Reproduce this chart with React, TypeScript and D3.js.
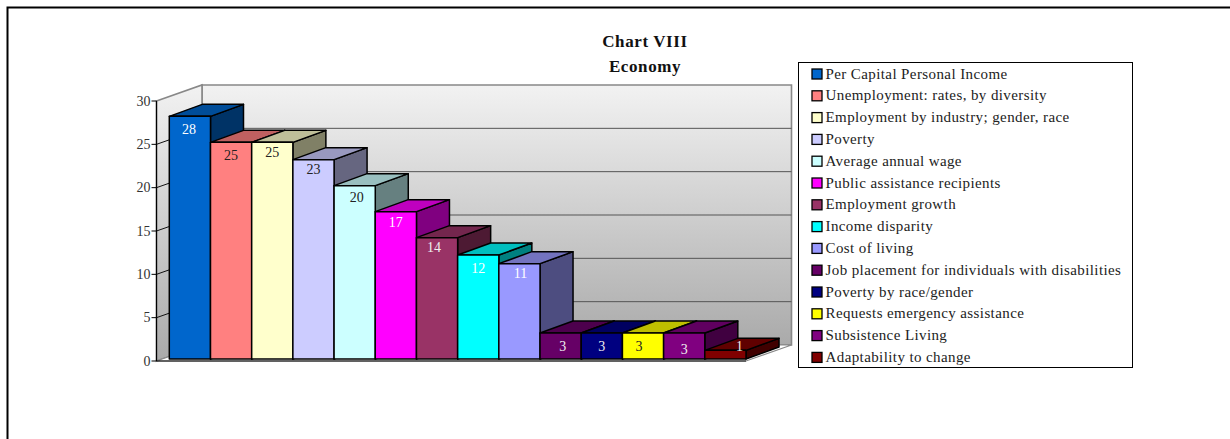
import React from "react";
import * as d3 from "d3";

const categories = [
  "Per Capital Personal Income",
  "Unemployment: rates, by diversity",
  "Employment by industry; gender, race",
  "Poverty",
  "Average annual wage",
  "Public assistance recipients",
  "Employment growth",
  "Income disparity",
  "Cost of living",
  "Job placement for individuals with disabilities",
  "Poverty by race/gender",
  "Requests emergency assistance",
  "Subsistence Living",
  "Adaptability to change",
];
const values = [28, 25, 25, 23, 20, 17, 14, 12, 11, 3, 3, 3, 3, 1];
const barColors = [
  "#0066cc", "#ff8080", "#ffffcc", "#ccccff", "#ccffff", "#ff00ff", "#993366",
  "#00ffff", "#9999ff", "#660066", "#000080", "#ffff00", "#800080", "#800000",
];
const labelColors = [
  "#fff", "#222", "#222", "#222", "#222", "#fff", "#eee",
  "#fff", "#fff", "#eee", "#eee", "#222", "#eee", "#eee",
];
const titleLines = ["Chart VIII", "Economy"];
const yTicks = [0, 5, 10, 15, 20, 25, 30];

// Hand-placed data labels: offset from the default spot near the bar's top centre.
const labelDx = [-1, 0, 0, 0, 2, 0, -3, 0, 1, 2, 0, -4, 0, 14];
const labelDy = [0, 0, -3, -3, -1, -2, -3, 0, -3, 0, 0, 0, 3, -17];

const FONT = "'Liberation Serif', 'Times New Roman', serif";
const DEPTH_X = 33;
const DEPTH_Y = 12;
const WALL_DX = 45.5;
const WALL_DY = 16;

const y = d3.scaleLinear().domain([0, 30]).range([359, 99]);
const axisY = d3.scaleLinear().domain([0, 30]).range([361, 101]);
const x = d3
  .scaleBand<number>()
  .domain(d3.range(values.length))
  .range([169.3, 746])
  .padding(0);

const poly = (pts: [number, number][]) => pts.map((p) => p.join(",")).join(" ");
const shade = (c: string, k: number) => {
  const { r, g, b } = d3.rgb(c);
  return d3.rgb(r * k, g * k, b * k).formatHex();
};

const AXIS_X = 156.5;
const FLOOR_RIGHT = 746;

export default function App() {
  const wallLeft = AXIS_X + WALL_DX;
  const wallRight = FLOOR_RIGHT + WALL_DX;
  const wallTop = axisY(30) - WALL_DY;
  const wallBottom = axisY(0) - WALL_DY;
  const bw = x.bandwidth();

  return (
    <svg
      width={1230}
      height={439}
      style={{ position: "absolute", left: 0, top: 0, background: "#fff" }}
      fontFamily={FONT}
    >
      <defs>
        <linearGradient id="wall" x1="0" y1="0" x2="0" y2="1">
          <stop offset="0" stopColor="#f2f2f2" />
          <stop offset="1" stopColor="#aaaaaa" />
        </linearGradient>
      </defs>

      {/* Outer frame */}
      <path d="M7.5,439V7.5H1230" fill="none" stroke="#000" strokeWidth={2} />

      {/* Title */}
      {titleLines.map((t, i) => (
        <text key={t} x={645} y={47 + i * 25} textAnchor="middle" fontWeight="bold" fontSize={17} letterSpacing={0.6} fill="#111">
          {t}
        </text>
      ))}

      {/* Walls of the 3D plot box */}
      <polygon
        points={poly([[wallLeft, wallTop], [wallRight, wallTop], [wallRight, wallBottom], [wallLeft, wallBottom]])}
        fill="url(#wall)"
        stroke="#888"
        strokeWidth={1.6}
      />
      <polygon
        points={poly([[AXIS_X, axisY(30)], [wallLeft, wallTop], [wallLeft, wallBottom], [AXIS_X, axisY(0)]])}
        fill="url(#wall)"
        stroke="#888"
        strokeWidth={1.6}
      />
      <polygon
        points={poly([[AXIS_X, axisY(0)], [wallLeft, wallBottom], [wallRight, wallBottom], [FLOOR_RIGHT, axisY(0)]])}
        fill="#fff"
        stroke="#888"
        strokeWidth={1.2}
      />

      {/* Gridlines on the back wall and side wall */}
      {yTicks.filter((t) => t > 0 && t < 30).map((t) => (
        <g key={t} stroke="#555" strokeWidth={1} fill="none">
          <line x1={wallLeft} x2={wallRight} y1={axisY(t) - WALL_DY} y2={axisY(t) - WALL_DY} />
          <line x1={AXIS_X} x2={wallLeft} y1={axisY(t)} y2={axisY(t) - WALL_DY} stroke="#111" />
        </g>
      ))}

      {/* Value axis */}
      <line x1={AXIS_X} x2={AXIS_X} y1={axisY(0)} y2={axisY(30)} stroke="#000" strokeWidth={1.2} />
      <line x1={AXIS_X} x2={FLOOR_RIGHT} y1={axisY(0)} y2={axisY(0)} stroke="#000" strokeWidth={1.2} />
      {yTicks.map((t) => (
        <g key={t}>
          <line x1={AXIS_X - 5} x2={AXIS_X} y1={axisY(t)} y2={axisY(t)} stroke="#000" />
          <text x={AXIS_X - 6} y={axisY(t) + 4.5} textAnchor="end" fontSize={14} fill="#333">
            {t}
          </text>
        </g>
      ))}

      {/* Extruded bars, painted left to right so later tops cover earlier sides */}
      {values.map((v, i) => {
        const x0 = x(i)!;
        const x1 = x0 + bw;
        const top = y(v);
        const base = y(0);
        const c = barColors[i];
        return (
          <g key={i} stroke="#000" strokeWidth={1.5} strokeLinejoin="round">
            <polygon
              points={poly([[x1, top], [x1 + DEPTH_X, top - DEPTH_Y], [x1 + DEPTH_X, base - DEPTH_Y], [x1, base]])}
              fill={shade(c, 0.5)}
            />
            <polygon
              points={poly([[x0, top], [x0 + DEPTH_X, top - DEPTH_Y], [x1 + DEPTH_X, top - DEPTH_Y], [x1, top]])}
              fill={shade(c, 0.75)}
            />
            <rect x={x0} y={top} width={bw} height={base - top} fill={c} />
          </g>
        );
      })}

      {/* Data labels */}
      {values.map((v, i) => (
        <text
          key={i}
          x={x(i)! + bw / 2 + labelDx[i]}
          y={y(v) + 17.5 + labelDy[i]}
          textAnchor="middle"
          fontSize={14}
          fill={labelColors[i]}
        >
          {v}
        </text>
      ))}

      {/* Legend */}
      <rect x={798.5} y={62.5} width={334} height={305} fill="#fff" stroke="#000" strokeWidth={1} />
      {categories.map((name, i) => {
        const rowY = 74 + i * 21.8;
        return (
          <g key={name}>
            <rect x={812} y={rowY - 5} width={10} height={10} fill={barColors[i]} stroke="#000" strokeWidth={1.3} />
            <text x={825.5} y={rowY + 4.5} fontSize={15} letterSpacing={0.4} fill="#222">
              {name}
            </text>
          </g>
        );
      })}
    </svg>
  );
}
